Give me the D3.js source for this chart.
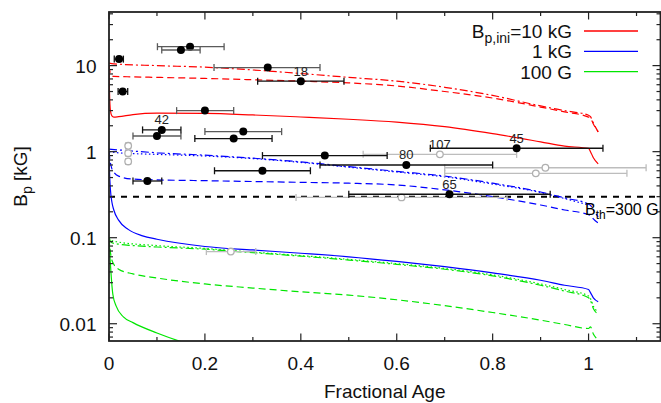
<!DOCTYPE html>
<html><head><meta charset="utf-8">
<script src="https://cdn.jsdelivr.net/npm/d3@7"></script>
<style>
body{margin:0;background:#fff;}
svg{display:block;font-family:"Liberation Sans",Arial,Helvetica,sans-serif;}
</style></head>
<body><div id="chart"></div>
<script>
// ---- data ----
const xTickValues = [0, 0.2, 0.4, 0.6, 0.8, 1];
const xTickLabels = ["0", "0.2", "0.4", "0.6", "0.8", "1"];
const yTickValues = [0.01, 0.1, 1, 10];
const yTickLabels = ["0.01", "0.1", "1", "10"];
const legendLabels = ["10 kG", "1 kG", "100 G"];
const legendColors = ["#ff0000", "#0000ff", "#00e600"];

// red: B_p,ini = 10 kG
const redSolidF = [0, 0.001, 0.003, 0.006, 0.01, 0.02, 0.05, 0.1, 0.2, 0.3, 0.4, 0.5, 0.6, 0.7, 0.8, 0.9, 0.95, 1.0, 1.004, 1.01, 1.02];
const redSolidB = [10, 5, 3, 2.6, 2.52, 2.55, 2.7, 2.8, 2.78, 2.67, 2.53, 2.38, 2.2, 1.95, 1.62, 1.3, 1.16, 1.09, 1.0, 0.85, 0.72];
const redDashF = [0, 0.002, 0.005, 0.01, 0.05, 0.1, 0.2, 0.3, 0.4, 0.5, 0.6, 0.7, 0.8, 0.9, 0.95, 1.0, 1.004, 1.01, 1.02];
const redDashB = [10, 8.5, 7.8, 7.5, 7.4, 7.3, 7.1, 6.85, 6.6, 6.3, 5.8, 5.0, 4.2, 3.3, 2.9, 2.52, 2.45, 2.1, 1.7];
const redDashDotF = [0, 0.01, 0.1, 0.2, 0.3, 0.4, 0.5, 0.6, 0.7, 0.8, 0.9, 0.95, 1.0, 1.004, 1.01, 1.02];
const redDashDotB = [10.7, 10.5, 10.0, 9.6, 8.9, 8.1, 7.3, 6.6, 5.6, 4.5, 3.4, 3.0, 2.65, 2.55, 2.15, 1.7];

// blue: 1 kG
const blueSolidF = [0, 0.001, 0.003, 0.006, 0.01, 0.02, 0.04, 0.07, 0.1, 0.2, 0.3, 0.4, 0.5, 0.6, 0.7, 0.8, 0.9, 0.95, 1.0, 1.004, 1.01, 1.02];
const blueSolidB = [1.0, 0.6, 0.36, 0.26, 0.21, 0.16, 0.125, 0.105, 0.096, 0.079, 0.072, 0.066, 0.06, 0.053, 0.046, 0.039, 0.032, 0.028, 0.025, 0.023, 0.02, 0.018];
const blueDashF = [0, 0.002, 0.005, 0.01, 0.02, 0.05, 0.1, 0.2, 0.3, 0.4, 0.5, 0.6, 0.7, 0.8, 0.9, 0.95, 1.0, 1.005, 1.01, 1.02];
const blueDashB = [1.0, 0.8, 0.66, 0.58, 0.52, 0.48, 0.47, 0.46, 0.45, 0.44, 0.43, 0.41, 0.36, 0.3, 0.24, 0.21, 0.185, 0.18, 0.165, 0.148];
const blueDashDotF = [0, 0.1, 0.2, 0.3, 0.4, 0.5, 0.6, 0.7, 0.8, 0.9, 0.95, 1.0, 1.005, 1.01, 1.02];
const blueDashDotB = [1.07, 0.97, 0.91, 0.84, 0.76, 0.67, 0.59, 0.52, 0.43, 0.34, 0.29, 0.245, 0.235, 0.21, 0.175];
const blueDotF = [0, 0.02, 0.05, 0.1, 0.2, 0.3, 0.4, 0.5, 0.6, 0.7, 0.8, 0.9, 0.95, 1.0];
const blueDotB = [1.0, 0.97, 0.95, 0.93, 0.89, 0.83, 0.75, 0.66, 0.58, 0.51, 0.42, 0.335, 0.285, 0.24];

// green: 100 G
const greenSolidF = [0, 0.002, 0.004, 0.008, 0.015, 0.03, 0.05, 0.1, 0.15, 0.2];
const greenSolidB = [0.1, 0.06, 0.04, 0.022, 0.016, 0.012, 0.0103, 0.0078, 0.0062, 0.0052];
const greenDashF = [0, 0.002, 0.005, 0.01, 0.02, 0.05, 0.1, 0.2, 0.3, 0.4, 0.5, 0.6, 0.7, 0.8, 0.9, 0.95, 1.0, 1.004, 1.01, 1.016];
const greenDashB = [0.1, 0.075, 0.058, 0.049, 0.043, 0.038, 0.034, 0.029, 0.026, 0.0235, 0.0215, 0.019, 0.0162, 0.0135, 0.011, 0.0098, 0.0088, 0.0092, 0.0076, 0.0068];
const greenDotF = [0, 0.005, 0.02, 0.1, 0.2, 0.3, 0.4, 0.5, 0.6, 0.7, 0.8, 0.9, 0.95, 1.0, 1.005, 1.01, 1.02];
const greenDotB = [0.1, 0.093, 0.089, 0.081, 0.075, 0.068, 0.062, 0.056, 0.05, 0.044, 0.037, 0.029, 0.025, 0.021, 0.019, 0.016, 0.0138];
const greenDashDotF = [0, 0.005, 0.02, 0.05, 0.1, 0.2, 0.3, 0.4, 0.5, 0.6, 0.7, 0.8, 0.9, 0.95, 1.0, 1.005, 1.01, 1.02];
const greenDashDotB = [0.1, 0.088, 0.084, 0.081, 0.078, 0.0735, 0.067, 0.061, 0.055, 0.049, 0.043, 0.036, 0.028, 0.024, 0.02, 0.018, 0.015, 0.013];

// threshold
const bThreshold = 0.3;

// observed stars: black filled points
const obsAge   = [0.021, 0.169, 0.150, 0.331, 0.400, 0.0285, 0.200, 0.110, 0.100, 0.280, 0.260, 0.450, 0.850, 0.620, 0.320, 0.080, 0.710];
const obsAgeLo = [0.011, 0.101, 0.110, 0.219, 0.310, 0.019, 0.141, 0.070, 0.050, 0.200, 0.179, 0.320, 0.670, 0.440, 0.220, 0.050, 0.500];
const obsAgeHi = [0.030, 0.240, 0.190, 0.440, 0.490, 0.039, 0.260, 0.150, 0.150, 0.360, 0.340, 0.580, 1.030, 0.800, 0.420, 0.110, 0.920];
const obsB     = [11.9, 16.6, 15.2, 9.5, 6.6, 5.0, 3.0, 1.79, 1.52, 1.71, 1.42, 0.90, 1.095, 0.70, 0.60, 0.456, 0.32];
const obsBarTone = ["k", "g", "g", "g", "k", "k", "g", "k", "g", "g", "k", "k", "k", "k", "k", "k", "k"];
const obsLabel = ["", "", "", "", "18", "", "", "42", "", "", "", "", "45", "80", "", "", "65"];

// observed stars: grey open points
const grayAge   = [0.690, 0.910, 0.890, 0.610, 0.254, 0.040, 0.040, 0.040];
const grayAgeLo = [0.530, 0.700, 0.700, 0.390, 0.203, 0.035, 0.035, 0.035];
const grayAgeHi = [0.850, 1.120, 1.080, 0.830, 0.306, 0.045, 0.045, 0.045];
const grayB     = [0.93, 0.65, 0.56, 0.294, 0.069, 1.17, 0.96, 0.77];
const grayLabel = ["107", "", "", "", "", "", "", ""];

// ---- drawing ----
const W = 661, H = 403;
const L = 109, R = 660.5, T = 12, B = 341;
const svg = d3.select("#chart").append("svg").attr("width", W).attr("height", H);

const x = d3.scaleLinear().domain([0, 1.15]).range([L, R]);
const y = d3.scaleLog().domain([0.0063, 42]).range([B, T]);

svg.append("defs").append("clipPath").attr("id", "clip")
  .append("rect").attr("x", L).attr("y", T).attr("width", R - L).attr("height", B - T);

const plot = svg.append("g").attr("clip-path", "url(#clip)");

const line = d3.line().x(d => x(d[0])).y(d => y(d[1])).curve(d3.curveMonotoneX);
const zip = (f, b) => f.map((v, i) => [v, b[i]]);

const DASH = "7,4", DASHDOT = "8,3,2,3", DOT = "1.5,2.5";
const curves = [
  [redSolidF, redSolidB, legendColors[0], null],
  [redDashF, redDashB, legendColors[0], DASH],
  [redDashDotF, redDashDotB, legendColors[0], DASHDOT],
  [blueSolidF, blueSolidB, legendColors[1], null],
  [blueDashF, blueDashB, legendColors[1], DASH],
  [blueDashDotF, blueDashDotB, legendColors[1], DASHDOT],
  [blueDotF, blueDotB, legendColors[1], DOT],
  [greenSolidF, greenSolidB, legendColors[2], null],
  [greenDashF, greenDashB, legendColors[2], DASH],
  [greenDotF, greenDotB, legendColors[2], DOT],
  [greenDashDotF, greenDashDotB, legendColors[2], DASHDOT],
];

// threshold line
plot.append("line")
  .attr("x1", x(0)).attr("x2", x(1.15))
  .attr("y1", y(bThreshold)).attr("y2", y(bThreshold))
  .attr("stroke", "#000").attr("stroke-width", 2).attr("stroke-dasharray", "6,6");

curves.forEach(([f, b, c, dash]) => {
  plot.append("path").datum(zip(f, b))
    .attr("d", line).attr("fill", "none")
    .attr("stroke", c).attr("stroke-width", 1.2)
    .attr("stroke-dasharray", dash);
});

// error bar helper
function errbar(g, xa, lo, hi, v, color) {
  const yy = y(v);
  g.append("line").attr("x1", x(lo)).attr("x2", x(hi)).attr("y1", yy).attr("y2", yy)
    .attr("stroke", color).attr("stroke-width", 1.3);
  [lo, hi].forEach(e => g.append("line").attr("x1", x(e)).attr("x2", x(e))
    .attr("y1", yy - 3.5).attr("y2", yy + 3.5).attr("stroke", color).attr("stroke-width", 1.3));
}

const pts = svg.append("g");
// grey points
grayAge.forEach((a, i) => {
  errbar(pts, a, grayAgeLo[i], grayAgeHi[i], grayB[i], "#bdbdbd");
  pts.append("circle").attr("cx", x(a)).attr("cy", y(grayB[i])).attr("r", 3.3)
    .attr("fill", "#fff").attr("stroke", "#b0b0b0").attr("stroke-width", 1.3);
  if (grayLabel[i]) pts.append("text").attr("x", x(a)).attr("y", y(grayB[i]) - 5.5)
    .attr("text-anchor", "middle").attr("font-size", 13).attr("fill", "#222").text(grayLabel[i]);
});
// black points
obsAge.forEach((a, i) => {
  errbar(pts, a, obsAgeLo[i], obsAgeHi[i], obsB[i], obsBarTone[i] === "k" ? "#111" : "#5a5a5a");
  pts.append("circle").attr("cx", x(a)).attr("cy", y(obsB[i])).attr("r", 4)
    .attr("fill", "#000");
  if (obsLabel[i]) pts.append("text").attr("x", x(a)).attr("y", y(obsB[i]) - 5.5)
    .attr("text-anchor", "middle").attr("font-size", 13).attr("fill", "#222").text(obsLabel[i]);
});

// threshold label
const th = svg.append("text").attr("x", 585).attr("y", y(bThreshold) + 18)
  .attr("font-size", 16).attr("fill", "#000");
th.append("tspan").text("B");
th.append("tspan").attr("font-size", 12).attr("dy", 4).text("th");
th.append("tspan").attr("dy", -4).text("=300 G");

// axes frame & ticks
const axG = svg.append("g");
const frameColor = "#222";
const xMinor = d3.range(0, 1.15, 0.1).map(v => +v.toFixed(2));
xMinor.forEach(v => {
  const major = xTickValues.some(t => Math.abs(t - v) < 1e-9);
  const len = major ? 7.5 : 4;
  axG.append("line").attr("x1", x(v)).attr("x2", x(v)).attr("y1", B).attr("y2", B - len)
    .attr("stroke", frameColor).attr("stroke-width", 1.2);
  axG.append("line").attr("x1", x(v)).attr("x2", x(v)).attr("y1", T).attr("y2", T + len)
    .attr("stroke", frameColor).attr("stroke-width", 1.2);
});
const yMinor = [];
[0.001, 0.01, 0.1, 1, 10].forEach(d => { for (let k = 1; k <= 9; k++) yMinor.push(d * k); });
yMinor.filter(v => v >= 0.0063 && v <= 42).forEach(v => {
  const major = yTickValues.some(t => Math.abs(t - v) / t < 1e-6);
  const len = major ? 8 : 4;
  axG.append("line").attr("x1", L).attr("x2", L + len).attr("y1", y(v)).attr("y2", y(v))
    .attr("stroke", frameColor).attr("stroke-width", 1.2);
  axG.append("line").attr("x1", R).attr("x2", R - len).attr("y1", y(v)).attr("y2", y(v))
    .attr("stroke", frameColor).attr("stroke-width", 1.2);
});
axG.append("rect").attr("x", L).attr("y", T).attr("width", R - L).attr("height", B - T)
  .attr("fill", "none").attr("stroke", frameColor).attr("stroke-width", 1.8);

// tick labels
xTickValues.forEach((v, i) => {
  svg.append("text").attr("x", x(v)).attr("y", 370).attr("text-anchor", "middle")
    .attr("font-size", 19).attr("fill", "#111").text(xTickLabels[i]);
});
yTickValues.forEach((v, i) => {
  svg.append("text").attr("x", 96.5).attr("y", y(v) + 7).attr("text-anchor", "end")
    .attr("font-size", 19).attr("fill", "#111").text(yTickLabels[i]);
});

// axis titles
svg.append("text").attr("x", (L + R) / 2).attr("y", 398).attr("text-anchor", "middle")
  .attr("font-size", 19).attr("fill", "#111").text("Fractional Age");
const yt = svg.append("text").attr("transform", "translate(27," + ((T + B) / 2) + ") rotate(-90)")
  .attr("text-anchor", "middle").attr("font-size", 19).attr("fill", "#111");
yt.append("tspan").text("B");
yt.append("tspan").attr("font-size", 14).attr("dy", 5).text("p");
yt.append("tspan").attr("dy", -5).text(" [kG]");

// legend
const lg = svg.append("g");
legendLabels.forEach((lab, i) => {
  const yy = 31 + i * 20.3;
  const t = lg.append("text").attr("x", 572).attr("y", yy + 7).attr("text-anchor", "end")
    .attr("font-size", 19).attr("fill", "#111");
  if (i === 0) {
    t.append("tspan").text("B");
    t.append("tspan").attr("font-size", 14).attr("dy", 5).text("p,ini");
    t.append("tspan").attr("dy", -5).text("=" + lab);
  } else {
    t.text(lab);
  }
  lg.append("line").attr("x1", 584).attr("x2", 638).attr("y1", yy).attr("y2", yy)
    .attr("stroke", legendColors[i]).attr("stroke-width", 1.3);
});
</script>
</body></html>
